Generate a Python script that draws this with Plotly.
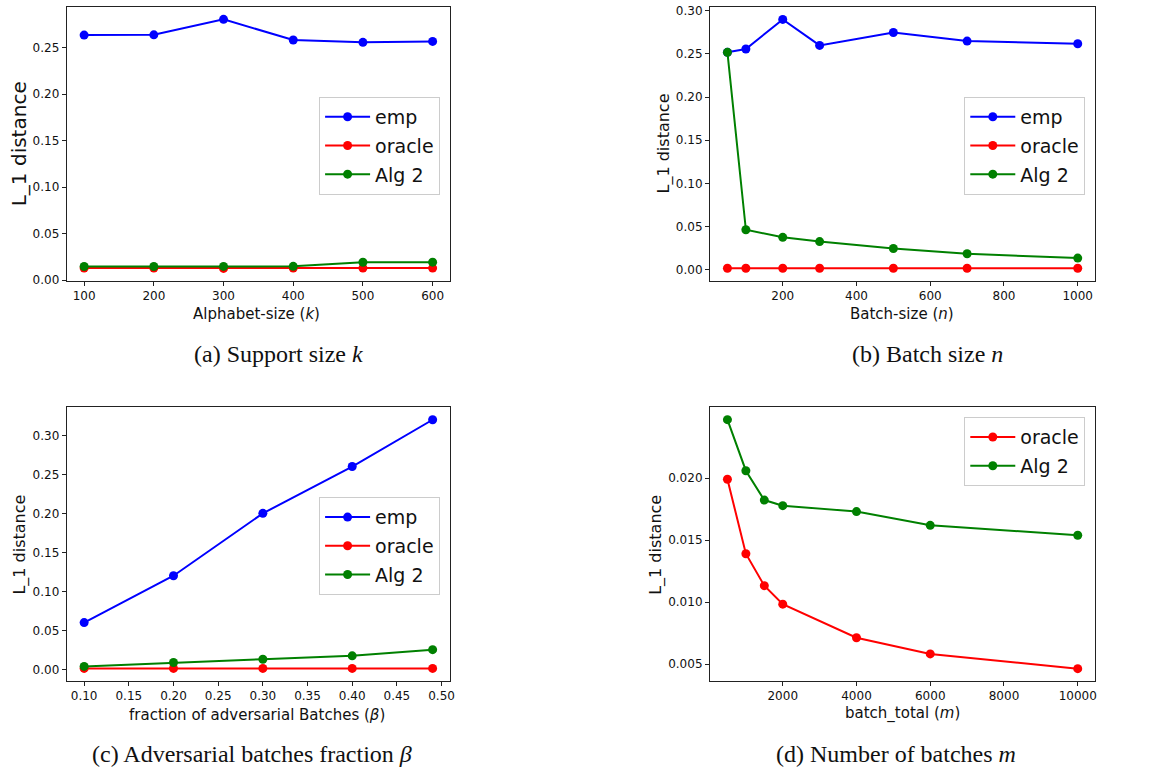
import plotly.graph_objects as go

# ---------------- data ----------------
k_vals = [100, 200, 300, 400, 500, 600]
a_emp = [0.2635, 0.2638, 0.2805, 0.2582, 0.2557, 0.2567]
a_oracle = [0.0128, 0.0128, 0.0125, 0.0128, 0.0128, 0.0128]
a_alg2 = [0.0145, 0.0145, 0.0146, 0.0147, 0.0191, 0.0192]

n_vals = [50, 100, 200, 300, 500, 700, 1000]
b_emp = [0.2517, 0.2555, 0.2898, 0.2597, 0.2746, 0.2647, 0.2616]
b_oracle = [0.0019, 0.0019, 0.0019, 0.0019, 0.0019, 0.0019, 0.0019]
b_alg2 = [0.2517, 0.0465, 0.0377, 0.0328, 0.0248, 0.0187, 0.0137]

beta_vals = [0.10, 0.20, 0.30, 0.40, 0.49]
c_emp = [0.060, 0.120, 0.200, 0.260, 0.320]
c_oracle = [0.0012, 0.0012, 0.0012, 0.0012, 0.0012]
c_alg2 = [0.0038, 0.0088, 0.0130, 0.0173, 0.0253]

m_vals = [500, 1000, 1500, 2000, 4000, 6000, 10000]
d_oracle = [0.01992, 0.01391, 0.01133, 0.00984, 0.00713, 0.00582, 0.00463]
d_alg2 = [0.02473, 0.02061, 0.01824, 0.01779, 0.01731, 0.01620, 0.01540]

a_xticks = [100, 200, 300, 400, 500, 600]
a_yticks = [0.00, 0.05, 0.10, 0.15, 0.20, 0.25]
b_xticks = [200, 400, 600, 800, 1000]
b_yticks = [0.00, 0.05, 0.10, 0.15, 0.20, 0.25, 0.30]
c_xticks = [0.10, 0.15, 0.20, 0.25, 0.30, 0.35, 0.40, 0.45, 0.50]
c_yticks = [0.00, 0.05, 0.10, 0.15, 0.20, 0.25, 0.30]
d_xticks = [2000, 4000, 6000, 8000, 10000]
d_yticks = [0.005, 0.010, 0.015, 0.020]

y_label = "L_1 distance"
x_labels = ["Alphabet-size (<i>k</i>)", "Batch-size (<i>n</i>)",
            "fraction of adversarial Batches (<i>β</i>)", "batch_total (<i>m</i>)"]
captions = ["(a) Support size <i>k</i>", "(b) Batch size <i>n</i>",
            "(c) Adversarial batches fraction <i>β</i>", "(d) Number of batches <i>m</i>"]

BLUE, RED, GREEN = "#0000ff", "#ff0000", "#008000"

W, H = 1157, 778
fig = go.Figure()


def px_x(p):
    return p / W


def px_y(p):
    return 1 - p / H


def add(x, y, name, color, ax, leg, rank):
    fig.add_trace(go.Scatter(
        x=x, y=y, name=name, mode="lines+markers",
        line=dict(color=color, width=2),
        marker=dict(color=color, size=9),
        xaxis="x" + ax, yaxis="y" + ax, legend=leg,
        legendgroup=leg + name, legendrank=rank,
    ))


add(k_vals, a_emp, "emp", BLUE, "", "legend", 1)
add(k_vals, a_oracle, "oracle", RED, "", "legend", 2)
add(k_vals, a_alg2, "Alg 2", GREEN, "", "legend", 3)

add(n_vals, b_oracle, "oracle", RED, "2", "legend2", 2)
add(n_vals, b_emp, "emp", BLUE, "2", "legend2", 1)
add(n_vals, b_alg2, "Alg 2", GREEN, "2", "legend2", 3)

add(beta_vals, c_emp, "emp", BLUE, "3", "legend3", 1)
add(beta_vals, c_oracle, "oracle", RED, "3", "legend3", 2)
add(beta_vals, c_alg2, "Alg 2", GREEN, "3", "legend3", 3)

add(m_vals, d_oracle, "oracle", RED, "4", "legend4", 1)
add(m_vals, d_alg2, "Alg 2", GREEN, "4", "legend4", 2)

tickfont = dict(family="DejaVu Sans", size=12, color="#111")


def axis(domain, rng, tickvals, fmt, anchor):
    return dict(domain=domain, range=rng, tickvals=tickvals, tickformat=fmt,
                showgrid=False, zeroline=False, showline=True, mirror=True,
                linecolor="#222", linewidth=1, ticks="outside", ticklen=4,
                tickcolor="#222", tickfont=tickfont, anchor=anchor)


xa_left = [px_x(67), px_x(452)]
xa_right = [px_x(713), px_x(1100)]
ya_top = [px_y(281), px_y(4)]
ya_bot = [px_y(686), px_y(409)]

legend_common = dict(font=dict(family="DejaVu Sans", size=19, color="#111"),
                     bgcolor="rgba(255,255,255,0.85)", bordercolor="#cccccc",
                     borderwidth=1, xanchor="right", yanchor="top",
                     itemclick=False, tracegroupgap=1, itemwidth=45)

layout = dict(
    width=W, height=H, margin=dict(l=0, r=0, t=0, b=0),
    paper_bgcolor="white", plot_bgcolor="white",
    xaxis=axis(xa_left, [75, 625], a_xticks, "d", "y"),
    yaxis=axis(ya_top, [-0.0008, 0.2938], a_yticks, ".2f", "x"),
    xaxis2=axis(xa_right, [2.5, 1047.5], b_xticks, "d", "y2"),
    yaxis2=axis(ya_top, [-0.0125, 0.3042], b_yticks, ".2f", "x2"),
    xaxis3=axis(xa_left, [0.0805, 0.5095], c_xticks, ".2f", "y3"),
    yaxis3=axis(ya_bot, [-0.015, 0.336], c_yticks, ".2f", "x3"),
    xaxis4=axis(xa_right, [25, 10475], d_xticks, "d", "y4"),
    yaxis4=axis(ya_bot, [0.00363, 0.02573], d_yticks, ".3f", "x4"),
    legend=dict(x=px_x(442), y=px_y(95), **legend_common),
    legend2=dict(x=px_x(1090), y=px_y(95), **legend_common),
    legend3=dict(x=px_x(442), y=px_y(500), **legend_common),
    legend4=dict(x=px_x(1090), y=px_y(419), **legend_common),
)
fig.update_layout(**layout)

ann = []
label_font = dict(family="DejaVu Sans", size=15, color="#111")
# x titles
for txt, cx, cy in zip(x_labels, [258, 906, 258, 906], [315, 315, 720, 719]):
    ann.append(dict(text=txt, x=px_x(cx), y=px_y(cy), xref="paper", yref="paper",
                    showarrow=False, xanchor="center", yanchor="middle", font=label_font))
# y titles
for cx, cy, fs in zip([19, 667, 20, 659], [142, 142, 548, 548], [20, 16, 16, 16]):
    ann.append(dict(text=y_label, x=px_x(cx), y=px_y(cy), xref="paper", yref="paper",
                    showarrow=False, textangle=-90, xanchor="center", yanchor="middle",
                    font=dict(family="DejaVu Sans", size=fs, color="#111")))
# captions
for txt, cx, cy in zip(captions, [280, 932, 253, 900], [355, 355, 760, 760]):
    ann.append(dict(text=txt, x=px_x(cx), y=px_y(cy), xref="paper", yref="paper",
                    showarrow=False, xanchor="center", yanchor="middle",
                    font=dict(family="Liberation Serif", size=24, color="#111")))
fig.update_layout(annotations=ann)

fig.write_html("out.html", config={"displayModeBar": False},
               post_script="document.body.style.margin='0px';document.body.style.padding='0px';")
